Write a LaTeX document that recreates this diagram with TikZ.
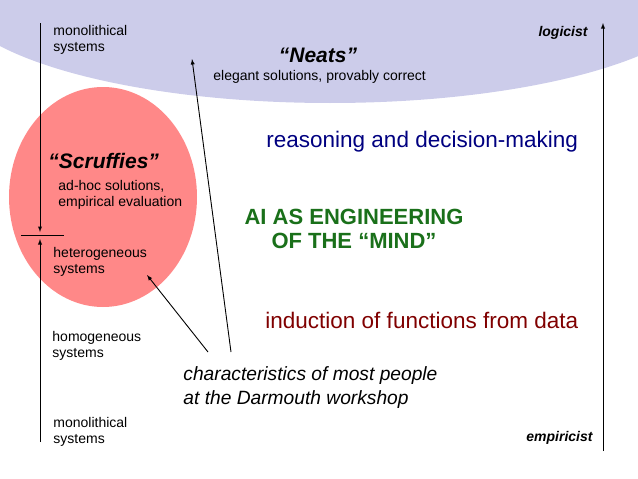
\documentclass[tikz,border=0pt]{standalone}
\usepackage{fontspec}
\setmainfont{Liberation Sans}
\usepackage{tikz}
\usetikzlibrary{arrows,positioning,calc}
\definecolor{neatblue}{RGB}{204,204,234}
\definecolor{scruffred}{RGB}{255,136,136}
\definecolor{reasonblue}{RGB}{0,0,128}
\definecolor{enggreen}{RGB}{26,112,26}
\definecolor{inducred}{RGB}{128,0,0}
\tikzset{
  axis label/.style={inner sep=0pt, align=left, font=\fontsize{14}{15.5}\selectfont},
  school/.style={inner sep=0pt, font=\fontsize{21}{24}\selectfont\bfseries\itshape},
  theme/.style={inner sep=0pt, font=\fontsize{22.5}{26}\selectfont},
  >=latex
}
\begin{document}
\begin{tikzpicture}[x=1pt,y=-1pt,line width=0.9pt]
  \useasboundingbox (0,0) rectangle (638,479);
  \clip (0,0) rectangle (638,479);
  % the two schools
  \fill[neatblue] (330,-10) ellipse [x radius=380pt, y radius=113pt];
  \fill[scruffred] (103,197) ellipse [x radius=94pt, y radius=110pt];

  % base of a two-line node is the baseline of its last line
  \node[axis label, anchor=base west] (monotop) at (53,51) {monolithical\\systems};
  \node[school, anchor=base] (neats) at (318,62) {“Neats”};
  \node[axis label, anchor=base west] (elegant) at (213,80) {elegant solutions, provably correct};
  \node[axis label, anchor=base east, font=\fontsize{14}{15.5}\selectfont\bfseries\itshape] (logicist) at (588,36) {logicist};

  \node[theme, anchor=base west, text=reasonblue] (reason) at (266,147) {reasoning and decision-making};
  \node[school, anchor=base west] (scruffies) at (48,168) {“Scruffies”};
  \node[axis label, anchor=base west] (adhoc) at (58,206) {ad-hoc solutions,\\empirical evaluation};
  \node[inner sep=0pt, anchor=base, align=center, text=enggreen,
        font=\fontsize{22}{24}\selectfont\bfseries] (engineering) at (354,248) {AI AS ENGINEERING\\OF THE “MIND”};
  \node[axis label, anchor=base west] (hetero) at (53,273) {heterogeneous\\systems};
  \node[theme, anchor=base west, text=inducred] (induction) at (265,328) {induction of functions from data};
  \node[axis label, anchor=base west] (homo) at (52,357) {homogeneous\\systems};
  \node[inner sep=0pt, anchor=base west, align=left,
        font=\fontsize{19.2}{24}\selectfont\itshape] (darmouth) at (183,404) {characteristics of most people\\at the Darmouth workshop};
  \node[axis label, anchor=base west] (monobot) at (53,443) {monolithical\\systems};
  \node[axis label, anchor=base east, font=\fontsize{14}{15.5}\selectfont\bfseries\itshape] (empiricist) at (593,441) {empiricist};

  % axes
  \coordinate (axtop) at (40,23);
  \coordinate (axdown) at (40,232);
  \coordinate (axup) at (40,239);
  \coordinate (axbot) at (40,442);
  \coordinate (barw) at (21,235);
  \coordinate (bare) at (64,235);
  \draw[->] (axtop) -- (axdown);
  \draw[->] (axbot) -- (axup);
  \draw (barw) -- (bare);
  \coordinate (logbot) at (603,451);
  \coordinate (logtop) at (603,23);
  \draw[->] (logbot) -- (logtop);

  % pointers from the workshop
  \coordinate (ptneat) at (231,352);
  \coordinate (ptscruff) at (208,352);
  \coordinate (neattip) at (192,59);
  \coordinate (scrufftip) at (147,275);
  \draw[->] (ptneat) -- (neattip);
  \draw[->] (ptscruff) -- (scrufftip);
\end{tikzpicture}
\end{document}
